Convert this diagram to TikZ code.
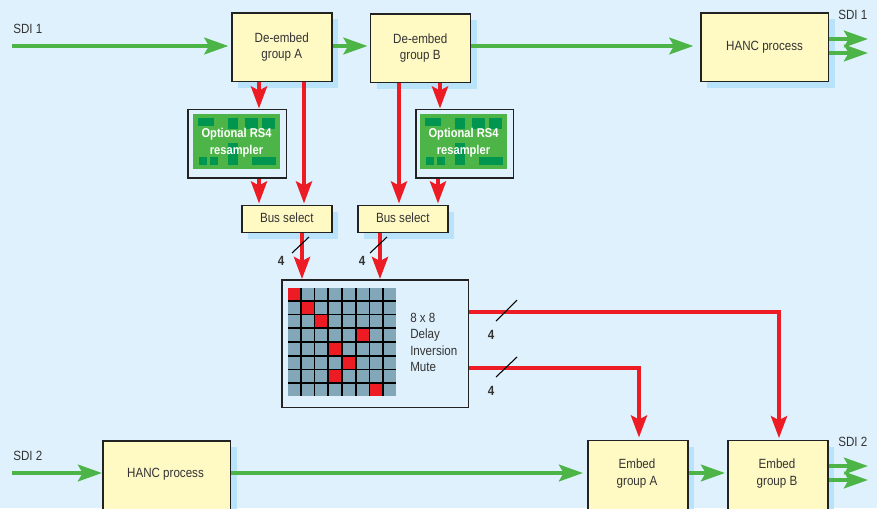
\documentclass[tikz,border=0pt]{standalone}
\usepackage{fontspec}
\setmainfont[FakeStretch=0.87]{Liberation Sans}
\usetikzlibrary{arrows.meta,shadows}
\definecolor{bgc}{HTML}{DFF1FC}
\definecolor{shad}{HTML}{B9E3FA}
\definecolor{yel}{HTML}{FFF9C4}
\definecolor{grn}{HTML}{4DB447}
\definecolor{dgrn}{HTML}{009650}
\definecolor{rd}{HTML}{ED1C24}
\definecolor{cellc}{HTML}{82A7B8}
\definecolor{txt}{HTML}{333333}
\definecolor{edge}{HTML}{222222}
\tikzset{
  x=0.75pt,y=-0.75pt,
  lab/.style={font=\fontsize{10}{12.2}\selectfont,text=txt,align=center,inner sep=0pt},
  llab/.style={lab,align=left,anchor=west},
  four/.style={font=\fontsize{10}{12}\selectfont\bfseries,text=txt,inner sep=0pt},
  boxbase/.style={draw=edge,line width=1.15pt,fill=yel,inner sep=0pt,anchor=north west,lab,
    drop shadow={shadow xshift=4.8pt,shadow yshift=-4.8pt,fill=shad,opacity=1}},
  bigbox/.style={boxbase,minimum width=100*0.75pt,minimum height=68.5*0.75pt},
  hancbox/.style={boxbase,minimum width=127.5*0.75pt,minimum height=68.5*0.75pt},
  busbox/.style={boxbase,minimum width=90*0.75pt,minimum height=27*0.75pt},
  openbox/.style={draw=edge,line width=1.15pt,fill=yel,inner sep=0pt,anchor=north west,
    drop shadow={shadow xshift=4.8pt,shadow yshift=-4.8pt,fill=shad,opacity=1}},
  framebox/.style={draw=edge,line width=1.15pt,fill=bgc,inner sep=0pt,anchor=north west},
  pcb/.style={fill=grn,inner sep=0pt,anchor=north west,minimum width=87*0.75pt,minimum height=55*0.75pt,
    font=\fontsize{9.6}{12.4}\selectfont\bfseries,text=white,align=center},
  gar/.style={draw=grn,line width=3pt,-{Stealth[length=18pt,width=12.5pt,inset=3.5pt,fill=grn]}},
  rar/.style={draw=rd,line width=3pt,-{Stealth[length=16.5pt,width=12pt,inset=3pt,fill=rd]}},
  tick/.style={draw=black,line width=0.8pt},
  pad/.style={fill=dgrn},
  cell/.style={fill=cellc},
  rcell/.style={fill=rd},
}
\begin{document}
\begin{tikzpicture}
\useasboundingbox (0,0) rectangle (877,508);
\clip (0,0) rectangle (877,508);
\fill[bgc] (0,0) rectangle (877,508);

% Boxes
\node[bigbox] (dA) at (231,12) {De-embed\\group A};
\node[bigbox] (dB) at (369.5,13) {De-embed\\group B};
\node[hancbox] (h1) at (700,12) {HANC process};
\node[busbox] (bA) at (241,204.5) {\raisebox{1pt}{Bus select}};
\node[busbox] (bB) at (357,204.5) {\raisebox{1pt}{Bus select}};
\node[openbox,minimum width=127.5*0.75pt,minimum height=90*0.75pt] (h2) at (102,440) {};
\node[openbox,minimum width=100*0.75pt,minimum height=90*0.75pt] (eA) at (587,439.5) {};
\node[openbox,minimum width=100*0.75pt,minimum height=90*0.75pt] (eB) at (727,439.5) {};
\node[lab] (h2t) at (165.5,474) {HANC process};
\node[lab] (eAt) at (637,473.5) {Embed\\group A};
\node[lab] (eBt) at (777,473.5) {Embed\\group B};

% Resamplers
\node[framebox,minimum width=98.5*0.75pt,minimum height=68.5*0.75pt] (rA) at (187,108.5) {};
\node[framebox,minimum width=97.5*0.75pt,minimum height=68.5*0.75pt] (rB) at (415,108.5) {};
\foreach \ox/\nm in {193/pA,420/pB}{
  \node[pcb] (\nm) at (\ox,114) {};
  \begin{scope}[shift={(\ox,114)}]
    \fill[pad] (5,4) rectangle (21,12);
    \fill[pad] (35,4) rectangle (45,15);
    \fill[pad] (52,4) rectangle (65,15);
    \fill[pad] (69,4) rectangle (82,15);
    \fill[pad] (35,29) rectangle (45,51);
    \fill[pad] (6,43) rectangle (14,51);
    \fill[pad] (17,43) rectangle (25,51);
    \fill[pad] (59,43) rectangle (83,51);
  \end{scope}
}
\node[pcb,fill=none,anchor=center] (tA) at (236.5,142.5) {Optional RS4\\resampler};
\node[pcb,fill=none,anchor=center] (tB) at (463.5,142.5) {Optional RS4\\resampler};

% Matrix
\node[framebox,minimum width=186.5*0.75pt,minimum height=127.5*0.75pt] (mx) at (281,279) {};
\fill[black] (288,288) rectangle (396,396);
\foreach \c in {0,...,7}\foreach \r in {0,...,7}{
  \fill[cell] (288+13.72*\c,288+13.72*\r) rectangle +(11.9,11.9);
}
\foreach \c/\r in {0/0,1/1,2/2,5/3,3/4,4/5,3/6,6/7}{
  \fill[rcell] (288+13.72*\c,288+13.72*\r) rectangle +(11.9,11.9);
}
\node[llab] (mt) at (410,342.5) {8 x 8\\Delay\\Inversion\\Mute};

% Guide coordinates
\coordinate (gy1) at (0,46);
\coordinate (gy1a) at (0,39);
\coordinate (gy1b) at (0,53);
\coordinate (gy2) at (0,473);
\coordinate (gy2a) at (0,466);
\coordinate (gy2b) at (0,480);
\coordinate (s1in) at (12,46);
\coordinate (s2in) at (12,473);
\coordinate (o1a) at (868,39);
\coordinate (o1b) at (868,53);
\coordinate (o2a) at (868,466);
\coordinate (o2b) at (868,480);
\coordinate (xa) at (259,0);
\coordinate (xb) at (304,0);
\coordinate (xc) at (399,0);
\coordinate (xd) at (440,0);
\coordinate (xe) at (438,0);
\coordinate (xf) at (302,0);
\coordinate (xg) at (380,0);
\coordinate (yt1) at (0,312);
\coordinate (yt2) at (0,368);
\coordinate (xr1) at (779,0);
\coordinate (xr2) at (639,0);

% Green connectors
\draw[gar] (s1in) -- ([xshift=-2pt]dA.west |- gy1);
\draw[gar] (dA.east |- gy1) -- ([xshift=-1.5pt]dB.west |- gy1);
\draw[gar] (dB.east |- gy1) -- ([xshift=-5pt]h1.west |- gy1);
\draw[gar] (h1.east |- gy1a) -- (o1a);
\draw[gar] (h1.east |- gy1b) -- (o1b);
\draw[gar] (s2in) -- (h2.west |- gy2);
\draw[gar] (h2.east |- gy2) -- ([xshift=-3pt]eA.west |- gy2);
\draw[gar] (eA.east |- gy2) -- ([xshift=-1.5pt]eB.west |- gy2);
\draw[gar] (eB.east |- gy2a) -- (o2a);
\draw[gar] (eB.east |- gy2b) -- (o2b);

% Red connectors
\draw[rar] (dA.south -| xa) -- (rA.north -| xa);
\draw[rar] (dA.south -| xb) -- ([yshift=0.8pt]bA.north -| xb);
\draw[rar] (dB.south -| xc) -- ([yshift=0.8pt]bB.north -| xc);
\draw[rar] (dB.south -| xd) -- (rB.north -| xd);
\draw[rar] (rA.south -| xa) -- ([yshift=0.8pt]bA.north -| xa);
\draw[rar] (rB.south -| xe) -- ([yshift=0.8pt]bB.north -| xe);
\draw[rar] (bA.south -| xf) -- (mx.north -| xf);
\draw[rar] (bB.south -| xg) -- (mx.north -| xg);
\draw[rar] (mx.east |- yt1) -- (yt1 -| xr1) -- ([yshift=1pt]eB.north -| xr1);
\draw[rar] (mx.east |- yt2) -- (yt2 -| xr2) -- ([yshift=1.5pt]eA.north -| xr2);

% Ticks
\coordinate (t1s) at (292,253); \coordinate (t1e) at (309,237);
\coordinate (t2s) at (370,253); \coordinate (t2e) at (387,237);
\coordinate (t3s) at (496,321); \coordinate (t3e) at (517,300);
\coordinate (t4s) at (496,377); \coordinate (t4e) at (517,357);
\draw[tick] (t1s) -- (t1e);
\draw[tick] (t2s) -- (t2e);
\draw[tick] (t3s) -- (t3e);
\draw[tick] (t4s) -- (t4e);
\node[four] (n1) at (281,261) {4};
\node[four] (n2) at (362,261) {4};
\node[four] (n3) at (491,334.5) {4};
\node[four] (n4) at (491,390.5) {4};

% SDI labels
\node[lab,anchor=west] (l1) at (13,29) {SDI 1};
\node[lab,anchor=west] (l2) at (838,15) {SDI 1};
\node[lab,anchor=west] (l3) at (13,456) {SDI 2};
\node[lab,anchor=west] (l4) at (838,442) {SDI 2};
\end{tikzpicture}
\end{document}
